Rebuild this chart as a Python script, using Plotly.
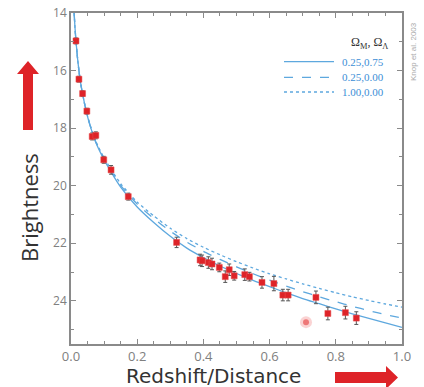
import plotly.graph_objects as go

# ---- data ----
sn_z = [0.015, 0.024, 0.035, 0.048, 0.064, 0.075, 0.099, 0.121, 0.173, 0.319,
        0.390, 0.396, 0.415, 0.426, 0.448, 0.466, 0.478, 0.493, 0.525, 0.539,
        0.577, 0.613, 0.640, 0.656, 0.740, 0.776, 0.829, 0.862]
sn_mag = [14.97, 16.30, 16.80, 17.41, 18.29, 18.25, 19.10, 19.45, 20.38, 21.97,
          22.58, 22.61, 22.67, 22.72, 22.84, 23.16, 22.92, 23.13, 23.09, 23.16,
          23.36, 23.40, 23.80, 23.80, 23.88, 24.44, 24.41, 24.60]
sn_err = [0.10, 0.10, 0.10, 0.10, 0.12, 0.12, 0.12, 0.15, 0.12, 0.18,
          0.20, 0.20, 0.20, 0.20, 0.15, 0.20, 0.20, 0.15, 0.20, 0.15,
          0.20, 0.25, 0.20, 0.20, 0.22, 0.22, 0.22, 0.22]
faint_z = [0.71]
faint_mag = [24.74]

curve_z = [0.0095, 0.012, 0.015, 0.02, 0.025, 0.03, 0.04, 0.05, 0.06, 0.075,
           0.1, 0.125, 0.15, 0.2, 0.25, 0.3, 0.35, 0.4, 0.45, 0.5,
           0.55, 0.6, 0.65, 0.7, 0.75, 0.8, 0.85, 0.9, 0.95, 1.0]
mag_025_075 = [14.0, 14.5, 14.97, 15.6, 16.1, 16.5, 17.1, 17.6, 18.0, 18.5,
               19.1, 19.6, 20.05, 20.74, 21.28, 21.76, 22.17, 22.5, 22.79, 23.05,
               23.29, 23.51, 23.72, 23.92, 24.1, 24.28, 24.45, 24.61, 24.77, 24.92]
mag_025_000 = [14.0, 14.5, 14.97, 15.6, 16.1, 16.5, 17.1, 17.59, 17.99, 18.48,
               19.07, 19.55, 19.99, 20.64, 21.14, 21.58, 21.96, 22.28, 22.56, 22.82,
               23.06, 23.28, 23.49, 23.68, 23.86, 24.03, 24.19, 24.34, 24.48, 24.6]
mag_100_000 = [14.0, 14.5, 14.97, 15.6, 16.1, 16.5, 17.1, 17.58, 17.97, 18.46,
               19.04, 19.5, 19.93, 20.57, 21.05, 21.48, 21.84, 22.14, 22.4, 22.64,
               22.86, 23.06, 23.24, 23.41, 23.57, 23.72, 23.86, 23.99, 24.11, 24.22]

legend_labels = ["0.25,0.75", "0.25,0.00", "1.00,0.00"]
legend_dashes = ["solid", "dash", "dot"]
x_ticks = [0.0, 0.2, 0.4, 0.6, 0.8, 1.0]
y_ticks = [14, 16, 18, 20, 22, 24]

# ---- layout geometry (pixels) ----
W, H = 424, 387
L, R, T, B = 71, 22, 13, 43
PW, PH = W - L - R, H - T - B


def px(x):
    return (x - L) / PW


def py(y):
    return (H - B - y) / PH


CURVE = "#5ea8de"
TXT_BLUE = "#3c8ed6"
AX = "#8a8a8a"
RED = "#de2328"

fig = go.Figure()
for mags, dash in zip([mag_025_075, mag_025_000, mag_100_000], legend_dashes):
    fig.add_trace(go.Scatter(x=curve_z, y=mags, mode="lines",
                             line=dict(color=CURVE, width=1.3, dash=dash,
                                       shape="spline", smoothing=0.6),
                             hoverinfo="skip", showlegend=False))

fig.add_trace(go.Scatter(x=faint_z, y=faint_mag, mode="markers",
                         marker=dict(size=12, color="rgba(235,80,80,0.25)"),
                         showlegend=False))
fig.add_trace(go.Scatter(x=faint_z, y=faint_mag, mode="markers",
                         marker=dict(size=6, color="rgba(230,60,60,0.6)"),
                         showlegend=False))

fig.add_trace(go.Scatter(x=sn_z, y=sn_mag, mode="markers",
                         error_y=dict(type="data", array=sn_err, color="#555555",
                                      thickness=1, width=2),
                         marker=dict(size=6, color=RED, symbol="square",
                                     line=dict(width=0.5, color="#e85050")),
                         showlegend=False))

shapes = []
annotations = []

# legend (manual)
leg_y = [61.7, 77.3, 92.0]
for yy, dash, lab in zip(leg_y, legend_dashes, legend_labels):
    shapes.append(dict(type="line", xref="paper", yref="paper",
                       x0=px(284), x1=px(334), y0=py(yy), y1=py(yy),
                       line=dict(color=CURVE, width=1.3, dash=dash)))
    annotations.append(dict(xref="paper", yref="paper", x=px(340), y=py(yy),
                            text=lab, showarrow=False, xanchor="left",
                            yanchor="middle",
                            font=dict(family="Liberation Serif", size=11,
                                      color=TXT_BLUE)))
annotations.append(dict(xref="paper", yref="paper", x=px(390), y=py(43),
                        text="Ω<sub>M</sub>, Ω<sub>Λ</sub>", showarrow=False,
                        xanchor="right", yanchor="middle",
                        font=dict(family="Liberation Serif", size=12,
                                  color="#333333")))
annotations.append(dict(xref="paper", yref="paper", x=px(413), y=py(52),
                        text="Knop et al. 2003", showarrow=False, textangle=-90,
                        xanchor="center", yanchor="middle",
                        font=dict(family="Liberation Sans", size=8,
                                  color="#aaaaaa")))

# axis titles
annotations.append(dict(xref="paper", yref="paper", x=px(29), y=py(208),
                        text="Brightness", showarrow=False, textangle=-90,
                        xanchor="center", yanchor="middle",
                        font=dict(family="Open Sans", size=22, color="#333333")))
annotations.append(dict(xref="paper", yref="paper", x=px(213), y=py(376),
                        text="Redshift/Distance", showarrow=False,
                        xanchor="center", yanchor="middle",
                        font=dict(family="DejaVu Sans", size=20, color="#333333")))


def poly(points):
    d = "M " + " L ".join(f"{px(a):.4f},{py(b):.4f}" for a, b in points) + " Z"
    return dict(type="path", xref="paper", yref="paper", path=d,
                fillcolor=RED, line=dict(width=0))


shapes.append(poly([(23, 130), (23, 74), (17, 74), (28, 61), (39, 74),
                    (33, 74), (33, 130)]))
shapes.append(poly([(335, 372), (386, 372), (386, 366), (398, 377.5),
                    (386, 389), (386, 383), (335, 383)]))

fig.update_layout(
    width=W, height=H,
    margin=dict(l=L, r=R, t=T, b=B),
    paper_bgcolor="white", plot_bgcolor="white",
    shapes=shapes, annotations=annotations,
    xaxis=dict(range=[0, 1.0], tickvals=x_ticks,
               ticktext=[f"{v:.1f}" for v in x_ticks],
               ticks="inside", ticklen=5, tickcolor=AX, tickwidth=1,
               minor=dict(dtick=0.05, ticks="inside", ticklen=3,
                          tickcolor=AX),
               showline=True, linecolor=AX, linewidth=1.5, mirror="ticks",
               showgrid=False, zeroline=False, automargin=False,
               tickfont=dict(family="Open Sans", size=13, color="#808080")),
    yaxis=dict(range=[25.5, 14], tickvals=y_ticks,
               ticks="inside", ticklen=5, tickcolor=AX, tickwidth=1,
               minor=dict(dtick=1, ticks="inside", ticklen=3, tickcolor=AX),
               showline=True, linecolor=AX, linewidth=1.5, mirror="ticks",
               showgrid=False, zeroline=False, automargin=False,
               tickfont=dict(family="Open Sans", size=12, color="#808080")),
)

fig.write_html("out.html", config={"displayModeBar": False},
               post_script="document.body.style.margin='0';"
                           "document.body.style.overflow='hidden';")
